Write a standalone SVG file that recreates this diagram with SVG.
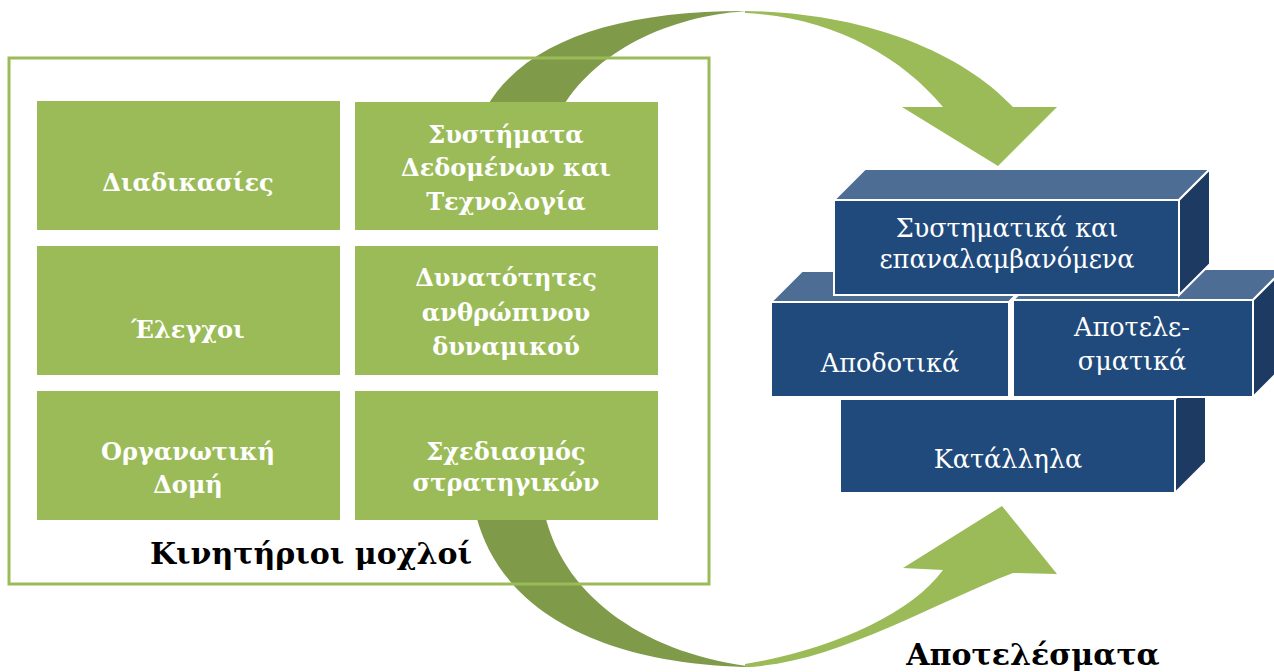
<svg xmlns="http://www.w3.org/2000/svg" width="1274" height="672" viewBox="0 0 1274 672">
<style>
.lg{fill:#9BBB59}
.dg{fill:#7F9A48}
.gbox{fill:#9BBB59}
.gt{font-family:"DejaVu Serif","Liberation Serif",serif;font-weight:bold;font-size:24px;fill:#fff;text-anchor:middle}
.bt{font-family:"DejaVu Serif","Liberation Serif",serif;font-size:25.5px;fill:#fff;text-anchor:middle}
.big{font-family:"DejaVu Serif","Liberation Serif",serif;font-weight:bold;font-size:30px;fill:#000;text-anchor:middle}
.front{fill:#214A7C;stroke:#fff;stroke-width:2}
.top{fill:#4E6D95;stroke:#fff;stroke-width:2}
.side{fill:#1C3A62;stroke:#fff;stroke-width:2}
</style>
<rect width="1274" height="672" fill="#fff"/>
<g id="connectors">
<path class="dg" d="M 486,108 C 525,40 620,10 750,11 C 680,14 600,45 562,108 Z"/>
<path class="lg" d="M 745,11 C 860,12 960,50 1013,107 L 1057,107 L 998,166 L 902,107 L 943,107 C 900,55 830,17 745,13 Z"/>
<path class="dg" d="M 476,515 C 500,610 600,665 755,667 C 650,655 565,600 545,515 Z"/>
<path class="lg" d="M 745,667 C 830,665 930,605 1013,573 L 1057,574 L 1002,506 L 903,568 L 943,570 C 910,615 830,650 745,664 Z"/>
</g>
<g id="frame">
<rect x="9" y="58" width="700" height="526" fill="none" stroke="#9BBB59" stroke-width="3"/>
<text class="big" x="311" y="564">Κινητήριοι μοχλοί</text>
</g>
<g id="n1"><rect class="gbox" x="37" y="101" width="303" height="129"/><text class="gt" x="188" y="191">Διαδικασίες</text></g>
<g id="n2"><rect class="gbox" x="355" y="102" width="303" height="128"/><text class="gt" x="506" y="143">Συστήματα</text><text class="gt" x="506" y="176">Δεδομένων και</text><text class="gt" x="506" y="210">Τεχνολογία</text></g>
<g id="n3"><rect class="gbox" x="37" y="246" width="303" height="129"/><text class="gt" x="188" y="338">Έλεγχοι</text></g>
<g id="n4"><rect class="gbox" x="355" y="246" width="303" height="129"/><text class="gt" x="506" y="286">Δυνατότητες</text><text class="gt" x="506" y="321">ανθρώπινου</text><text class="gt" x="506" y="355">δυναμικού</text></g>
<g id="n5"><rect class="gbox" x="37" y="391" width="303" height="129"/><text class="gt" x="188" y="460">Οργανωτική</text><text class="gt" x="188" y="493">Δομή</text></g>
<g id="n6"><rect class="gbox" x="355" y="391" width="303" height="129"/><text class="gt" x="506" y="460">Σχεδιασμός</text><text class="gt" x="506" y="491">στρατηγικών</text></g>
<g id="b4">
<polygon class="side" points="1175,399 1206,368 1206,462 1175,493"/>
<rect class="front" x="840" y="399" width="335" height="94"/>
<text class="bt" x="1008" y="468">Κατάλληλα</text>
</g>
<g id="b2">
<polygon class="top" points="771,302 802,271 1040,271 1009,302"/>
<rect class="front" x="771" y="302" width="238" height="95"/>
<text class="bt" x="890" y="372">Αποδοτικά</text>
</g>
<g id="b3">
<polygon class="top" points="1013,300 1044,269 1284,269 1253,300"/>
<polygon class="side" points="1253,300 1284,269 1284,366 1253,397"/>
<rect class="front" x="1013" y="300" width="240" height="97"/>
<text class="bt" x="1132" y="336">Αποτελε-</text>
<text class="bt" x="1132" y="370">σματικά</text>
</g>
<g id="b1">
<polygon class="top" points="834,200 865,169 1210,169 1179,200"/>
<polygon class="side" points="1179,200 1210,169 1210,264 1179,295"/>
<rect class="front" x="834" y="200" width="345" height="95"/>
<text class="bt" x="1007" y="237">Συστηματικά και</text>
<text class="bt" x="1007" y="268">επαναλαμβανόμενα</text>
</g>
<text class="big" x="1033" y="665">Αποτελέσματα</text>
</svg>
